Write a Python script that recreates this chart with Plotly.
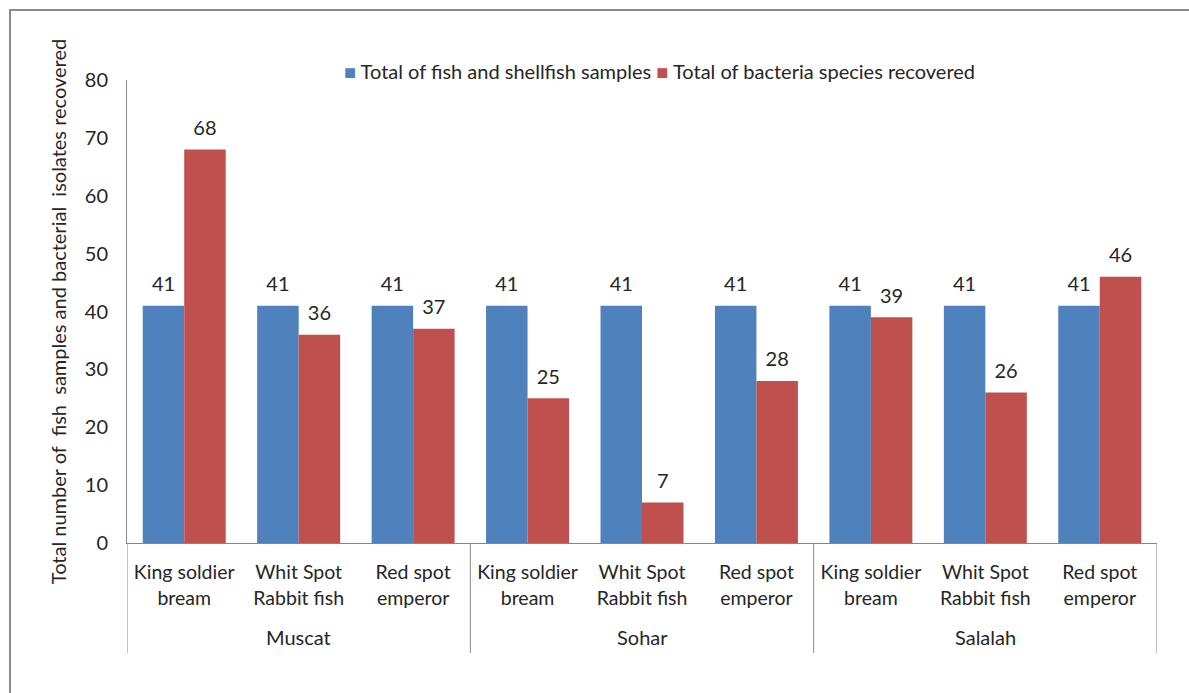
import plotly.graph_objects as go

regions = ["Muscat", "Sohar", "Salalah"]
species = ["King soldier<br>bream", "Whit Spot<br>Rabbit fish", "Red spot<br>emperor"]
fish_samples = [41, 41, 41, 41, 41, 41, 41, 41, 41]
bacteria = [68, 36, 37, 25, 7, 28, 39, 26, 46]
series_names = ["Total of fish and shellfish samples", "Total of bacteria species recovered"]
colors = ["#4F81BD", "#C0504D"]

FONT = "Lato"
TXT = "#262626"
AX = "#868686"

cat_keys = [f"{r}|{s}" for r in regions for s in species]
cat_text = [s for r in regions for s in species]

fig = go.Figure()
for i, (name, vals, col) in enumerate(zip(series_names, [fish_samples, bacteria], colors)):
    fig.add_trace(go.Bar(
        x=cat_keys, y=vals, name=name, marker_color=col, marker_line_width=0,
        offsetgroup=str(i), alignmentgroup="g", showlegend=False,
    ))
for i, vals in enumerate([fish_samples, bacteria]):
    fig.add_trace(go.Scatter(
        x=cat_keys, y=vals, mode="markers+text", text=[str(v) for v in vals],
        textposition="top center", marker=dict(size=14, opacity=0),
        textfont=dict(family=FONT, size=20, color=TXT),
        offsetgroup=str(i), alignmentgroup="g", showlegend=False, hoverinfo="skip",
        cliponaxis=False,
    ))

annotations = []
# legend as one text line
legend_txt = "&nbsp;".join(
    f"<span style='color:{c}'>■</span>&nbsp;{n}" for n, c in zip(series_names, colors))
annotations.append(dict(text=legend_txt, xref="paper", yref="paper", x=0.517, y=1.019,
                        xanchor="center", yanchor="middle", showarrow=False,
                        font=dict(family=FONT, size=20, color=TXT)))
# region group labels
for gi, r in enumerate(regions):
    annotations.append(dict(text=r, xref="x", yref="paper", x=cat_keys[gi * 3 + 1], y=-0.203,
                            xanchor="center", yanchor="middle", showarrow=False,
                            font=dict(family=FONT, size=20, color=TXT)))

shapes = [dict(type="rect", xref="paper", yref="paper",
               x0=-0.1136, x1=1.1, y0=-0.5, y1=1.151,
               line=dict(color="#8C8C8C", width=2), fillcolor="rgba(0,0,0,0)", layer="below")]
for gi in range(len(regions) + 1):
    xd = gi * 3 - 0.5
    shapes.append(dict(type="line", xref="x", yref="paper", x0=xd, x1=xd, y0=0, y1=-0.2376,
                       line=dict(color=AX, width=1)))

fig.update_layout(
    width=1189, height=693,
    margin=dict(l=127, r=32, t=80, b=150),
    paper_bgcolor="white", plot_bgcolor="white",
    barmode="group", bargap=0.275, bargroupgap=0,
    scattermode="group", scattergap=0.275,
    font=dict(family=FONT, size=20, color=TXT),
    showlegend=False,
    annotations=annotations, shapes=shapes,
)
fig.update_yaxes(range=[0, 80], dtick=10, showline=True, linecolor=AX, linewidth=1,
                 showgrid=False, zeroline=False, ticks="", ticklabelstandoff=14,
                 tickfont=dict(family=FONT, size=20, color=TXT),
                 title=dict(text="Total number of \u00a0fish \u00a0samples and bacterial \u00a0isolates recovered",
                            font=dict(family=FONT, size=20, color=TXT), standoff=12))
fig.update_xaxes(type="category", range=[-0.5, len(cat_keys) - 0.5],
                 tickvals=cat_keys, ticktext=cat_text,
                 showline=True, linecolor=AX, linewidth=1, showgrid=False, ticks="",
                 ticklabelstandoff=12,
                 tickfont=dict(family=FONT, size=19.5, color=TXT))

fig.write_html("out.html")
